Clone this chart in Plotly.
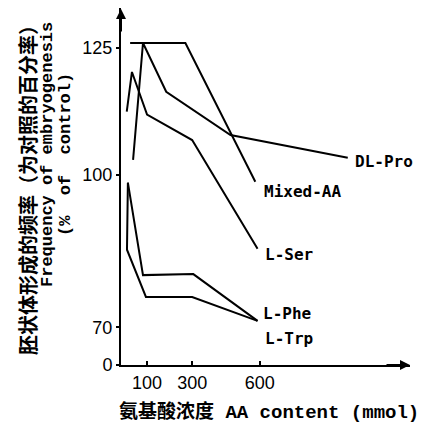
import plotly.graph_objects as go

# Data (x: AA content, mmol; y: % of control)
mixed_x = [25, 270, 580]
mixed_y = [126.0, 126.0, 98.7]
ser_x = [10, 33, 100, 300, 590]
ser_y = [112.5, 120.3, 111.9, 106.9, 85.5]
pro_x = [38, 82, 185, 470, 990]
pro_y = [103.0, 126.0, 116.4, 107.9, 103.4]
phe_x = [15, 82, 305, 590]
phe_y = [98.5, 80.3, 80.5, 71.3]
trp_x = [15, 11, 95, 300, 590]
trp_y = [98.5, 85.3, 76.0, 76.0, 71.3]

series_names = ["DL-Pro", "Mixed-AA", "L-Ser", "L-Phe", "L-Trp"]
series_x = [pro_x, mixed_x, ser_x, phe_x, trp_x]
series_y = [pro_y, mixed_y, ser_y, phe_y, trp_y]
label_shift = [(5, -4), (7, -10), (5, -6), (3, 7), (5, -18)]

x_ticks = [100, 300, 600]
y_ticks = [70, 100, 125]
x_range = [-15.5, 1266]
y_range = [62.6, 132.9]

# page has an 8px body margin; compensate so the plot lands where the reference has it
OFF = 8
W, H = 417, 418
L, R, T, B = 113, 15, 0, 61
PW, PH = W - L - R, H - T - B

fig = go.Figure()
for name, xs, ys in zip(series_names, series_x, series_y):
    fig.add_trace(go.Scatter(x=xs, y=ys, mode="lines", name=name,
                             line=dict(color="black", width=2), showlegend=False))

label_font = dict(family="DejaVu Sans Mono", size=16, color="black", weight="bold")
ann = []
for name, xs, ys, (dx, dy) in zip(series_names, series_x, series_y, label_shift):
    ann.append(dict(x=xs[-1], y=ys[-1], xref="x", yref="y", text=name, showarrow=False,
                    xanchor="left", yanchor="middle", xshift=dx, yshift=dy, font=label_font))

# axis arrows
ann.append(dict(x=1, y=0, xref="paper", yref="paper", ax=-25, ay=0, axref="pixel", ayref="pixel",
                text="", showarrow=True, arrowhead=2, arrowsize=1, arrowwidth=2, arrowcolor="black"))
ann.append(dict(x=0, y=1, xref="paper", yref="paper", ax=0, ay=25, axref="pixel", ayref="pixel",
                text="", showarrow=True, arrowhead=2, arrowsize=1, arrowwidth=2, arrowcolor="black"))

def px2paper_x(px):
    return (px - OFF - L) / PW

def px2paper_y(py):
    return (H - B - (py - OFF)) / PH

# x title
ann.append(dict(x=px2paper_x(117), y=px2paper_y(412), xref="paper", yref="paper",
                text="氨基酸浓度 AA content (mmol)", showarrow=False, xanchor="left", yanchor="middle",
                font=dict(family="Liberation Mono, Noto Sans CJK SC", size=19, color="black", weight="bold")))
# y title lines
ann.append(dict(x=px2paper_x(27), y=px2paper_y(185), xref="paper", yref="paper",
                text="胚状体形成的频率（为对照的百分率）", showarrow=False, textangle=-90,
                xanchor="center", yanchor="middle",
                font=dict(family="Noto Sans CJK SC", size=20, color="black", weight="bold")))
ann.append(dict(x=px2paper_x(47), y=px2paper_y(155), xref="paper", yref="paper",
                text="Frequency of embryogenesis", showarrow=False, textangle=-90,
                xanchor="center", yanchor="middle",
                font=dict(family="Liberation Mono", size=17, color="black", weight="bold")))
ann.append(dict(x=px2paper_x(65), y=px2paper_y(155), xref="paper", yref="paper",
                text="(%  of  control)", showarrow=False, textangle=-90,
                xanchor="center", yanchor="middle",
                font=dict(family="Liberation Mono", size=17, color="black", weight="bold")))

fig.update_layout(
    width=W, height=H, margin=dict(l=L, r=R, t=T, b=B),
    paper_bgcolor="white", plot_bgcolor="white",
    annotations=ann,
    xaxis=dict(range=x_range, tickvals=x_ticks, ticktext=[str(v) for v in x_ticks],
               showgrid=False, zeroline=False, showline=True, linecolor="black", linewidth=2,
               ticks="inside", ticklen=4, tickcolor="black", tickwidth=2, automargin=False,
               tickfont=dict(family="Liberation Sans", size=18, color="black")),
    yaxis=dict(range=y_range, tickvals=[y_range[0]] + y_ticks,
               ticktext=["0"] + [str(v) for v in y_ticks],
               showgrid=False, zeroline=False, showline=True, linecolor="black", linewidth=2,
               ticks="outside", ticklen=3, tickcolor="black", tickwidth=2, automargin=False,
               tickfont=dict(family="Liberation Sans", size=18, color="black")),
)

fig.write_html("out.html")
